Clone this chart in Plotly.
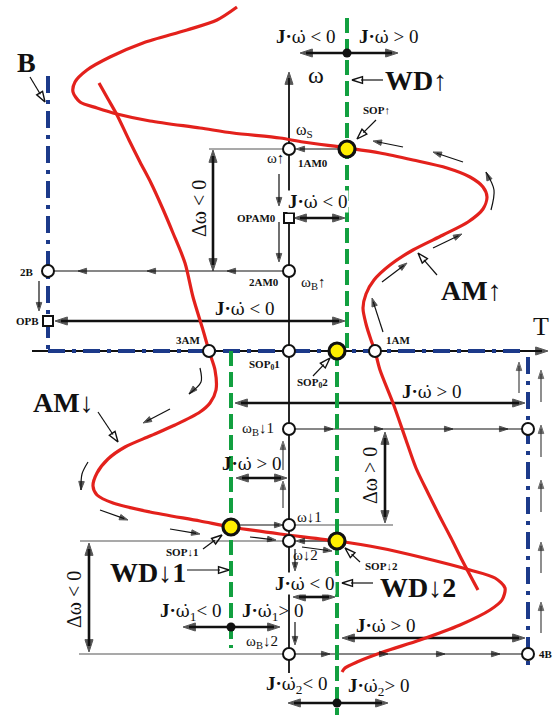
import math
import plotly.graph_objects as go

# ---------------------------------------------------------------------------
# Diagram data, in drawing units (T to the right, ω upward = smaller y)
# ---------------------------------------------------------------------------
upper_curve = [(237, 7), (217, 20), (187, 30), (143, 43), (110, 57), (87, 70), (75, 82),
               (73, 92), (80, 102), (97, 108), (117, 114), (150, 121), (200, 128), (233, 133),
               (280, 138), (303, 142), (347, 148), (380, 153), (413, 160), (447, 168),
               (470, 177), (483, 187), (487, 197), (483, 209), (468, 222), (443, 235),
               (413, 250), (390, 265), (374, 280), (366, 294), (363, 308), (366, 324),
               (371, 340), (375, 351), (380, 370), (393, 403), (406, 440), (416, 468),
               (428, 493), (440, 517), (451, 538), (462, 560), (478, 590)]
lower_curve = [(99, 83), (108, 99), (117, 115), (129, 140), (140, 162), (151, 183), (162, 207),
               (173, 233), (185, 263), (193, 297), (203, 330), (209, 351), (215, 370),
               (216, 390), (210, 403), (200, 412), (175, 425), (150, 436), (125, 447),
               (108, 459), (97, 473), (93, 486), (97, 495), (113, 503), (150, 512),
               (200, 521), (231, 527), (280, 534), (337, 541), (380, 548), (420, 557),
               (470, 570), (495, 578), (505, 588), (502, 600), (490, 610), (460, 625),
               (420, 640), (383, 652), (357, 662), (345, 668), (342, 672)]

# working (WD) lines: x, y_from, y_to
wd_lines = [(347, 18, 351), (231, 351, 648), (337, 351, 715)]
# boundary (B) lines
boundary_lines = [(48, 76, 48, 351), (48, 351, 527, 351), (528, 357, 528, 670)]

# axes: tail -> tip
axes_arrows = [(289, 673, 289, 72), (32, 351, 548, 351)]

# operating points
sop_points = [(347, 149), (337, 351), (231, 527), (337, 541)]
state_points = [(289, 149), (289, 271), (289, 351), (209, 351), (375, 351), (48, 271),
                (289, 429), (528, 429), (289, 525), (289, 541), (289, 654), (528, 654)]
op_points = [(289, 218), (48, 321)]
split_points = [(347, 53), (231, 627), (337, 703)]

# double-headed J·ω̇ / Δω arrows
double_arrows = [(300, 53, 398, 53), (213, 150, 213, 271), (294, 218, 345, 218),
                 (55, 321, 345, 321), (235, 403, 525, 403), (385, 432, 385, 523),
                 (236, 478, 287, 478), (293, 597, 335, 597), (183, 627, 280, 627),
                 (342, 638, 525, 638), (288, 703, 388, 703), (89, 543, 89, 652)]

# thin transition arrows: tail -> tip
thin_arrows = [(347, 149, 296, 149), (279, 174, 279, 206), (279, 222, 279, 262),
               (39, 281, 39, 311), (403, 147, 373, 141), (463, 162, 433, 152),
               (433, 248, 462, 234), (382, 282, 407, 263), (383, 332, 372, 298),
               (170, 409, 143, 423), (100, 510, 128, 520), (170, 529, 200, 534),
               (250, 537, 276, 540), (237, 525, 283, 525), (331, 541, 296, 541),
               (302, 547, 332, 551), (295, 549, 295, 571), (295, 622, 295, 645)]
# gray rise arrows along the boundary
rise_arrows = [(283, 508, 283, 481), (283, 470, 283, 441), (519, 393, 519, 362),
               (541, 402, 541, 370), (541, 457, 541, 425), (541, 512, 541, 480),
               (541, 573, 541, 542), (541, 633, 541, 602)]
# transitions drawn as lines with heads along them: (x0, y, x1, markers)
chain_lines = [(289, 271, 54, [227, 147, 78]),
               (289, 429, 522, [333, 383, 453, 508]),
               (289, 654, 522, [330, 388, 445, 500])]
# thin gray reference levels
level_lines = [(209, 149, 289, 149), (289, 525, 393, 525), (80, 541, 289, 541),
               (79, 654, 289, 654)]
# curved direction arrows
curved_arrows = [[(491, 210), (494, 190), (486, 172)],
                 [(200, 368), (201, 382), (189, 394)],
                 [(88, 462), (82, 474), (81, 490)]]
# label pointers with open heads: tail -> tip
pointers = [(30, 77, 45, 102), (383, 80, 352, 80), (376, 120, 357, 139),
            (437, 275, 418, 253), (313, 376, 330, 358), (98, 412, 118, 442),
            (203, 549, 222, 535), (187, 570, 229, 570), (360, 562, 345, 548),
            (373, 583, 342, 583)]

# ω with a dot above, set in a font that places the combining dot over the letter
WDOT = '<span style="font-family:DejaVu Serif;font-size:0.9em">ω̇</span>'
JW = "<b>J·</b>" + WDOT
# text, x, y, size, angle, white background
labels = [
    (JW + " &lt; 0", 306, 36, 19, 0, False),
    (JW + " &gt; 0", 389, 36, 19, 0, False),
    ("ω", 316, 75, 24, 0, False),
    ("<b>WD↑</b>", 416, 80, 28, 0, False),
    ("<b>SOP↑</b>", 376, 110, 11, 0, False),
    ("ω<sub>S</sub>", 304, 130, 16, 0, False),
    ("ω↑", 275, 158, 15, 0, False),
    ("<b>1AM0</b>", 313, 163, 11, 0, False),
    ("Δω &lt; 0", 199, 209, 20, -90, False),
    (JW + " &lt; 0", 318, 201, 19, 0, True),
    ("<b>OPAM0</b>", 256, 218, 11, 0, False),
    ("<b>2AM0</b>", 264, 282, 11, 0, False),
    ("ω<sub>B</sub>↑", 313, 283, 15, 0, False),
    ("<b>2B</b>", 27, 272, 11, 0, False),
    ("<b>OPB</b>", 27, 321, 11, 0, False),
    (JW + " &lt; 0", 245, 308, 19, 0, False),
    ("<b>B</b>", 26, 62, 28, 0, False),
    ("<b>3AM</b>", 188, 340, 11, 0, False),
    ("<b>SOP<sub>0</sub>1</b>", 264, 365, 11, 0, False),
    ("<b>SOP<sub>0</sub>2</b>", 312, 383, 11, 0, False),
    ("<b>1AM</b>", 398, 340, 11, 0, False),
    ("<b>AM↑</b>", 471, 290, 28, 0, False),
    ("T", 541, 326, 26, 0, False),
    (JW + " &gt; 0", 432, 391, 19, 0, False),
    ("<b>AM↓</b>", 63, 402, 28, 0, False),
    ("ω<sub>B</sub>↓1", 258, 429, 15, 0, False),
    (JW + " &gt; 0", 252, 463, 19, 0, False),
    ("Δω &gt; 0", 370, 476, 20, -90, False),
    ("ω↓1", 309, 517, 15, 0, False),
    ("ω↓2", 305, 555, 15, 0, False),
    ("<b>SOP↓1</b>", 182, 552, 11, 0, False),
    ("<b>WD↓1</b>", 148, 572, 28, 0, False),
    ("Δω &lt; 0", 74, 600, 20, -90, False),
    ("<b>SOP↓2</b>", 381, 566, 11, 0, False),
    (JW + " &lt; 0", 305, 583, 19, 0, True),
    ("<b>WD↓2</b>", 418, 587, 28, 0, False),
    (JW + "<sub>1</sub>&lt; 0", 190, 612, 19, 0, False),
    (JW + "<sub>1</sub>&gt; 0", 272, 612, 19, 0, False),
    (JW + " &gt; 0", 386, 625, 19, 0, False),
    ("ω<sub>B</sub>↓2", 262, 642, 15, 0, False),
    ("<b>4B</b>", 546, 654, 11, 0, False),
    (JW + "<sub>2</sub>&lt; 0", 296, 685, 19, 0, False),
    (JW + "<sub>2</sub>&gt; 0", 378, 687, 19, 0, False),
]

# ---------------------------------------------------------------------------
W, H = 558, 715
SERIF = "Liberation Serif, Times New Roman, serif"
RED, GREEN, BLUE = "#e3211c", "#12a040", "#1c3a8a"
GRAY, DARK = "#8c8c8c", "#111111"

fig = go.Figure()


def heading(x0, y0, x1, y1):
    # clockwise angle from "up" on screen (y grows downward)
    return math.degrees(math.atan2(x1 - x0, -(y1 - y0)))


def shorten(x0, y0, x1, y1, d):
    L = math.hypot(x1 - x0, y1 - y0)
    return x1 - (x1 - x0) / L * d, y1 - (y1 - y0) / L * d


def add_lines(segs, color, width, dash="solid", shape="linear"):
    xs, ys = [], []
    for s in segs:
        for p in s:
            xs.append(p[0]); ys.append(p[1])
        xs.append(None); ys.append(None)
    fig.add_trace(go.Scatter(x=xs, y=ys, mode="lines", hoverinfo="skip",
                             line=dict(color=color, width=width, dash=dash, shape=shape,
                                       smoothing=0.9)))


heads = {"x": [], "y": [], "a": [], "s": [], "c": []}


def add_head(x0, y0, x1, y1, size, color):
    heads["x"].append(x1); heads["y"].append(y1)
    heads["a"].append(heading(x0, y0, x1, y1))
    heads["s"].append(size); heads["c"].append(color)


# reference levels
add_lines([[(a, b), (c, d)] for a, b, c, d in level_lines], GRAY, 1.4)

# axes
axis_segs = []
for x0, y0, x1, y1 in axes_arrows:
    axis_segs.append([(x0, y0), shorten(x0, y0, x1, y1, 6)])
    add_head(x0, y0, x1, y1, 13, DARK)
add_lines(axis_segs, DARK, 1.8)

# chains with heads along them
chain_segs = []
for x0, y, x1, marks in chain_lines:
    chain_segs.append([(x0, y), (x1, y)])
    for m in marks:
        add_head(x0, y, m, y, 9, DARK)
add_lines(chain_segs, DARK, 1.2)

# thin arrows
thin_segs = []
for x0, y0, x1, y1 in thin_arrows:
    thin_segs.append([(x0, y0), shorten(x0, y0, x1, y1, 4)])
    add_head(x0, y0, x1, y1, 9, DARK)
add_lines(thin_segs, DARK, 1.2)

rise_segs = []
for x0, y0, x1, y1 in rise_arrows:
    rise_segs.append([(x0, y0), shorten(x0, y0, x1, y1, 4)])
    add_head(x0, y0, x1, y1, 9, "#333333")
add_lines(rise_segs, "#444444", 1.2)

# curved arrows
add_lines(curved_arrows, DARK, 1.2, shape="spline")
for pts in curved_arrows:
    (xa, ya), (xb, yb) = pts[-2], pts[-1]
    add_head(xa, ya, xb, yb, 9, DARK)

# double arrows
dbl_segs = []
for x0, y0, x1, y1 in double_arrows:
    a = shorten(x1, y1, x0, y0, 6)
    b = shorten(x0, y0, x1, y1, 6)
    dbl_segs.append([a, b])
    add_head(x0, y0, x1, y1, 13, DARK)
    add_head(x1, y1, x0, y0, 13, DARK)
add_lines(dbl_segs, DARK, 2.6)

# open-headed label pointers
ptr_segs, ptr_x, ptr_y, ptr_a = [], [], [], []
for x0, y0, x1, y1 in pointers:
    ptr_segs.append([(x0, y0), shorten(x0, y0, x1, y1, 9)])
    ptr_x.append(x1); ptr_y.append(y1); ptr_a.append(heading(x0, y0, x1, y1))
add_lines(ptr_segs, DARK, 1.2)

# characteristic curves
for curve in (upper_curve, lower_curve):
    fig.add_trace(go.Scatter(x=[p[0] for p in curve], y=[p[1] for p in curve], mode="lines",
                             hoverinfo="skip",
                             line=dict(color=RED, width=3.2, shape="spline", smoothing=0.8)))

# boundary lines (dash-dot) and working lines (dashed)
add_lines([[(a, b), (c, d)] for a, b, c, d in boundary_lines], BLUE, 4,
          dash="17px,7px,4px,7px")
add_lines([[(x, a), (x, b)] for x, a, b in wd_lines], GREEN, 4, dash="15px,6px")

# arrow heads
fig.add_trace(go.Scatter(x=heads["x"], y=heads["y"], mode="markers", hoverinfo="skip",
                         marker=dict(symbol="arrow", size=heads["s"], angle=heads["a"],
                                     color=heads["c"], line=dict(color=heads["c"], width=1))))
fig.add_trace(go.Scatter(x=ptr_x, y=ptr_y, mode="markers", hoverinfo="skip",
                         marker=dict(symbol="arrow-open", size=11, angle=ptr_a,
                                     color=DARK, line=dict(color=DARK, width=1.4))))

# points
fig.add_trace(go.Scatter(x=[p[0] for p in split_points], y=[p[1] for p in split_points],
                         mode="markers", hoverinfo="skip",
                         marker=dict(symbol="circle", size=9, color=DARK)))
fig.add_trace(go.Scatter(x=[p[0] for p in state_points], y=[p[1] for p in state_points],
                         mode="markers", hoverinfo="skip",
                         marker=dict(symbol="circle", size=12, color="white",
                                     line=dict(color=DARK, width=2))))
fig.add_trace(go.Scatter(x=[p[0] for p in op_points], y=[p[1] for p in op_points],
                         mode="markers", hoverinfo="skip",
                         marker=dict(symbol="square", size=10, color="white",
                                     line=dict(color=DARK, width=2))))
fig.add_trace(go.Scatter(x=[p[0] for p in sop_points], y=[p[1] for p in sop_points],
                         mode="markers", hoverinfo="skip",
                         marker=dict(symbol="circle", size=16, color="#ffee00",
                                     line=dict(color=DARK, width=3.2))))

for text, x, y, size, ang, bg in labels:
    fig.add_annotation(x=x, y=y, xref="x", yref="y", text=text, showarrow=False,
                       textangle=ang, font=dict(family=SERIF, size=size, color=DARK),
                       bgcolor="white" if bg else "rgba(0,0,0,0)", borderpad=0)

fig.update_layout(width=W, height=H, margin=dict(l=0, r=0, t=0, b=0),
                  plot_bgcolor="white", paper_bgcolor="white", showlegend=False,
                  xaxis=dict(range=[0, W], visible=False, fixedrange=True),
                  yaxis=dict(range=[H, 0], visible=False, fixedrange=True))

fig.write_html("out.html", config={"displayModeBar": False})
